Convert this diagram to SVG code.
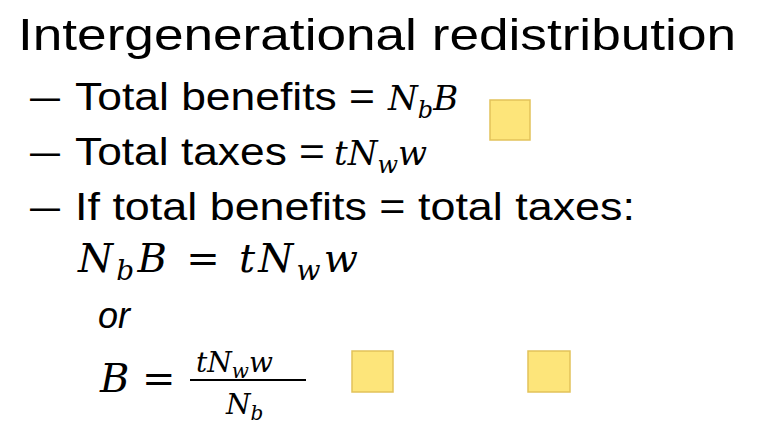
<svg xmlns="http://www.w3.org/2000/svg" width="759" height="432" viewBox="0 0 759 432">
<style>
.t{font-family:"Liberation Sans","Open Sans",sans-serif;fill:#000}
.m{font-family:"DejaVu Serif","Liberation Serif",serif;font-style:italic;fill:#000}
.n{fill:#FDE57A;stroke:#E2C25A;stroke-width:1.5}
</style>
<rect width="759" height="432" fill="#fff"/>
<text class="t" x="18" y="50" font-size="45" textLength="718" lengthAdjust="spacingAndGlyphs">Intergenerational redistribution</text>
<g font-size="38">
<text class="t" x="30" y="110" textLength="30" lengthAdjust="spacingAndGlyphs">–</text>
<text class="t" x="75" y="110" textLength="300" lengthAdjust="spacingAndGlyphs">Total benefits =</text>
<text class="m" x="388" y="110" font-size="34">N<tspan font-size="24" dy="8">b</tspan><tspan dy="-8">B</tspan></text>
<text class="t" x="30" y="165" textLength="30" lengthAdjust="spacingAndGlyphs">–</text>
<text class="t" x="75" y="165" textLength="250" lengthAdjust="spacingAndGlyphs">Total taxes =</text>
<text class="m" x="334" y="165" font-size="34">tN<tspan font-size="24" dy="8">w</tspan><tspan dy="-8">w</tspan></text>
<text class="t" x="30" y="220" textLength="30" lengthAdjust="spacingAndGlyphs">–</text>
<text class="t" x="75" y="220" textLength="560" lengthAdjust="spacingAndGlyphs">If total benefits = total taxes:</text>
</g>
<text class="m" x="78" y="272" font-size="40" textLength="280" lengthAdjust="spacing">N<tspan font-size="28" dy="8">b</tspan><tspan dy="-8">B = tN</tspan><tspan font-size="28" dy="8">w</tspan><tspan dy="-8">w</tspan></text>
<text class="t" x="98" y="328" font-size="36" font-style="italic">or</text>
<text class="m" x="100" y="392" font-size="40">B =</text>
<text class="m" x="196" y="372" font-size="28">tN<tspan font-size="20" dy="6">w</tspan><tspan dy="-6">w</tspan></text>
<line x1="190" y1="380" x2="306" y2="380" stroke="#000" stroke-width="2"/>
<text class="m" x="226" y="414" font-size="28">N<tspan font-size="20" dy="6">b</tspan></text>
<g id="note1"><rect class="n" x="490" y="100" width="40" height="40"/></g>
<g id="note2"><rect class="n" x="352" y="351" width="41" height="41"/></g>
<g id="note3"><rect class="n" x="528" y="351" width="42" height="41"/></g>
<g id="connectors"/>
</svg>
